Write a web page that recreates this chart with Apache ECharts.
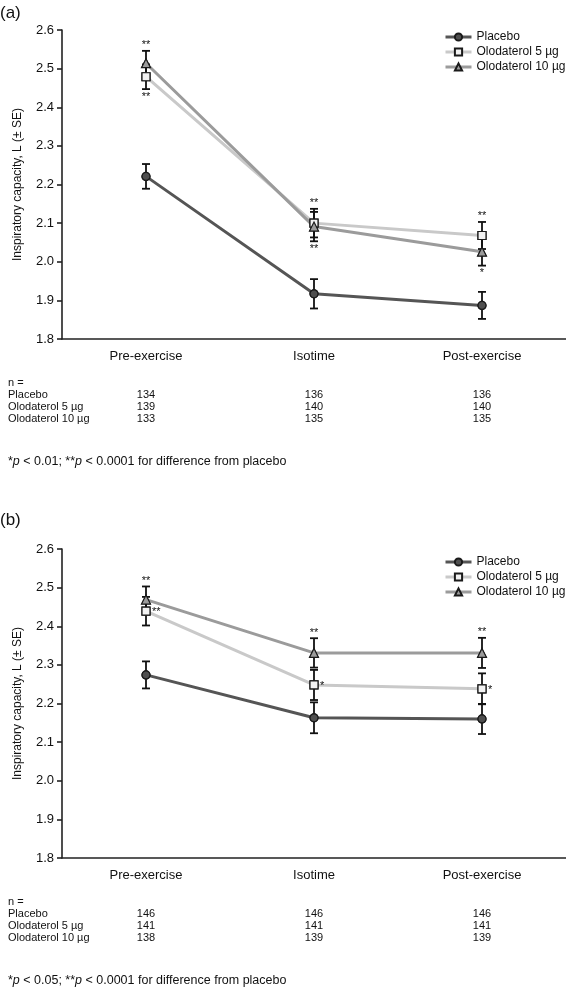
<!DOCTYPE html>
<html><head><meta charset="utf-8">
<script src="https://cdn.jsdelivr.net/npm/echarts@6/dist/echarts.min.js"></script>
<style>html,body{margin:0;padding:0;background:#fff}#c{width:566px;height:989px}</style>
</head><body><div id="c"></div>
<script>
// ---------- data ----------
const categories = ['Pre-exercise', 'Isotime', 'Post-exercise'];
const seriesNames = ['Placebo', 'Olodaterol 5 µg', 'Olodaterol 10 µg'];
const yMin = 1.8, yMax = 2.6, yStep = 0.1;

// Panel (a)
const placeboA = [2.221, 1.917, 1.887];
const placeboA_se = [0.032, 0.038, 0.035];
const olo5A = [2.479, 2.100, 2.068];
const olo5A_se = [0.032, 0.037, 0.035];
const olo10A = [2.514, 2.091, 2.026];
const olo10A_se = [0.032, 0.038, 0.036];
const nPlaceboA = [134, 136, 136];
const nOlo5A = [139, 140, 140];
const nOlo10A = [133, 135, 135];
// [category index, series index, side, text]
const starsA = [[0, 2, 'top', '**'], [0, 1, 'bottom', '**'],
                [1, 1, 'top', '**'], [1, 2, 'bottom', '**'],
                [2, 1, 'top', '**'], [2, 2, 'bottom', '*']];
const footnoteA = ['*', 'p', ' < 0.01; **', 'p', ' < 0.0001 for difference from placebo'];

// Panel (b)
const placeboB = [2.274, 2.163, 2.160];
const placeboB_se = [0.035, 0.040, 0.039];
const olo5B = [2.439, 2.248, 2.238];
const olo5B_se = [0.037, 0.039, 0.040];
const olo10B = [2.469, 2.331, 2.331];
const olo10B_se = [0.034, 0.038, 0.039];
const nPlaceboB = [146, 146, 146];
const nOlo5B = [141, 141, 141];
const nOlo10B = [138, 139, 139];
const starsB = [[0, 2, 'top', '**'], [0, 1, 'right', '**'],
                [1, 2, 'top', '**'], [1, 1, 'right', '*'],
                [2, 2, 'top', '**'], [2, 1, 'right', '*']];
const footnoteB = ['*', 'p', ' < 0.05; **', 'p', ' < 0.0001 for difference from placebo'];

// ---------- styles ----------
const FONT = '"Liberation Sans", Arial, Helvetica, sans-serif';
const TXT = '#111';
const lineColors = ['#555555', '#c9c9c9', '#9b9b9b'];
const markerFill = ['#4f4f4f', '#f2f2f2', '#9b9b9b'];
const symbols = ['circle', 'rect', 'triangle'];

const chart = echarts.init(document.getElementById('c'), null, {renderer: 'canvas'});

const panels = [
  {vals: [placeboA, olo5A, olo10A], se: [placeboA_se, olo5A_se, olo10A_se],
   n: [nPlaceboA, nOlo5A, nOlo10A], stars: starsA, foot: footnoteA, top: 30, label: '(a)',
   labelTop: 5, legendTop: 31},
  {vals: [placeboB, olo5B, olo10B], se: [placeboB_se, olo5B_se, olo10B_se],
   n: [nPlaceboB, nOlo5B, nOlo10B], stars: starsB, foot: footnoteB, top: 549, label: '(b)',
   labelTop: 512, legendTop: 556}
];
const GRID_H = 309;

function errorBarRender(params, api) {
  const x = api.value(0);
  const pHi = api.coord([x, api.value(2)]);
  const pLo = api.coord([x, api.value(1)]);
  const w = 4;
  const style = {stroke: '#111', lineWidth: 1.8};
  return {type: 'group', children: [
    {type: 'line', shape: {x1: pHi[0], y1: pHi[1], x2: pLo[0], y2: pLo[1]}, style: style},
    {type: 'line', shape: {x1: pHi[0] - w, y1: pHi[1], x2: pHi[0] + w, y2: pHi[1]}, style: style},
    {type: 'line', shape: {x1: pLo[0] - w, y1: pLo[1], x2: pLo[0] + w, y2: pLo[1]}, style: style}
  ]};
}

function starRenderFactory(list) {
  return function (params, api) {
    const s = list[params.dataIndex];
    const p = api.coord([api.value(0), api.value(1)]);
    let x = p[0], y = p[1], align = 'center', va = 'bottom';
    if (s[2] === 'top') { va = 'bottom'; }
    else if (s[2] === 'bottom') { y += 2; va = 'top'; }
    else { x += 6; align = 'left'; va = 'middle'; y += 1; }
    return {type: 'text', style: {text: s[3], x: x, y: y, align: align, verticalAlign: va,
      fontSize: 11, fontFamily: FONT, fill: '#111'}};
  };
}

const grid = [], xAxis = [], yAxis = [], series = [], legend = [];
panels.forEach(function (P, g) {
  grid.push({left: 62, right: 0, top: P.top, height: GRID_H});
  xAxis.push({type: 'category', gridIndex: g, data: categories, boundaryGap: true,
    axisLine: {lineStyle: {color: '#222', width: 1.6}},
    axisTick: {alignWithLabel: true, length: 6, lineStyle: {color: '#222', width: 1.6}},
    axisLabel: {color: TXT, fontSize: 13, fontFamily: FONT, margin: 11},
    splitLine: {show: false}});
  yAxis.push({type: 'value', gridIndex: g, min: yMin, max: yMax, interval: yStep,
    name: 'Inspiratory capacity, L (± SE)', nameLocation: 'middle', nameGap: 38,
    nameTextStyle: {color: TXT, fontSize: 12, fontFamily: FONT},
    axisLine: {show: true, lineStyle: {color: '#222', width: 1.6}},
    axisTick: {show: true, length: 5, lineStyle: {color: '#222', width: 1.6}},
    axisLabel: {color: TXT, fontSize: 13, fontFamily: FONT, margin: 8,
      formatter: function (v) { return v.toFixed(1); }},
    splitLine: {show: false}});
  legend.push({data: seriesNames, orient: 'vertical', left: 444, top: P.legendTop, padding: 0,
    itemWidth: 26, itemHeight: 9, itemGap: 3, itemTextGap: 4,
    lineStyle: {width: 3},
    textStyle: {color: TXT, fontSize: 12, fontFamily: FONT}, selectedMode: false});

  // lines
  P.vals.forEach(function (v, k) {
    series.push({type: 'line', name: seriesNames[k], xAxisIndex: g, yAxisIndex: g, data: v,
      symbol: symbols[k], symbolSize: 8, z: 2,
      lineStyle: {color: lineColors[k], width: 3},
      itemStyle: {color: markerFill[k], borderColor: '#1a1a1a', borderWidth: 1.2},
      emphasis: {disabled: true}, animation: false});
  });
  // error bars
  P.vals.forEach(function (v, k) {
    series.push({type: 'custom', name: 'eb' + g + k, xAxisIndex: g, yAxisIndex: g, z: 3,
      data: v.map(function (m, i) { return [i, m - P.se[k][i], m + P.se[k][i]]; }),
      encode: {x: 0, y: [1, 2]}, renderItem: errorBarRender, silent: true, animation: false});
  });
  // markers on top
  P.vals.forEach(function (v, k) {
    series.push({type: 'scatter', name: 'mk' + g + k, xAxisIndex: g, yAxisIndex: g, z: 4, data: v,
      symbol: symbols[k], symbolSize: k === 2 ? 9 : 8,
      itemStyle: {color: markerFill[k], borderColor: '#1a1a1a', borderWidth: 1.2, opacity: 1},
      silent: true, animation: false});
  });
  // significance stars
  series.push({type: 'custom', name: 'st' + g, xAxisIndex: g, yAxisIndex: g, z: 5,
    data: P.stars.map(function (s) {
      const m = P.vals[s[1]][s[0]], e = P.se[s[1]][s[0]];
      return [s[0], s[2] === 'top' ? m + e : (s[2] === 'bottom' ? m - e : m)];
    }),
    encode: {x: 0, y: 1}, renderItem: starRenderFactory(P.stars), silent: true, animation: false});
});

chart.setOption({animation: false, grid: grid, xAxis: xAxis, yAxis: yAxis, legend: legend, series: series});

// ---------- table of n and footnotes ----------
const graphic = [];
panels.forEach(function (P, g) {
  const base = P.top + GRID_H;
  graphic.push({type: 'text', left: 0, top: P.labelTop,
    style: {text: P.label, fontSize: 17, fontFamily: FONT, fill: TXT}});
  graphic.push({type: 'text', x: 8, y: base + 44,
    style: {text: 'n =', fontSize: 11, fontFamily: FONT, fill: TXT, verticalAlign: 'middle'}});
  P.n.forEach(function (row, k) {
    const y = base + 56 + 12 * k;
    graphic.push({type: 'text', x: 8, y: y,
      style: {text: seriesNames[k], fontSize: 11, fontFamily: FONT, fill: TXT, verticalAlign: 'middle'}});
    row.forEach(function (nv, i) {
      const px = chart.convertToPixel({xAxisIndex: g}, categories[i]);
      graphic.push({type: 'text', x: px, y: y,
        style: {text: String(nv), fontSize: 11, fontFamily: FONT, fill: TXT, align: 'center', verticalAlign: 'middle'}});
    });
  });
  const f = P.foot;
  graphic.push({type: 'text', x: 8, y: base + 123,
    style: {text: f[0] + '{i|' + f[1] + '}' + f[2] + '{i|' + f[3] + '}' + f[4],
      fontSize: 12.5, fontFamily: FONT, fill: TXT, verticalAlign: 'middle',
      rich: {i: {fontStyle: 'italic', fontSize: 12.5, fontFamily: FONT, fill: TXT}}}});
});
chart.setOption({graphic: graphic});
</script></body></html>
